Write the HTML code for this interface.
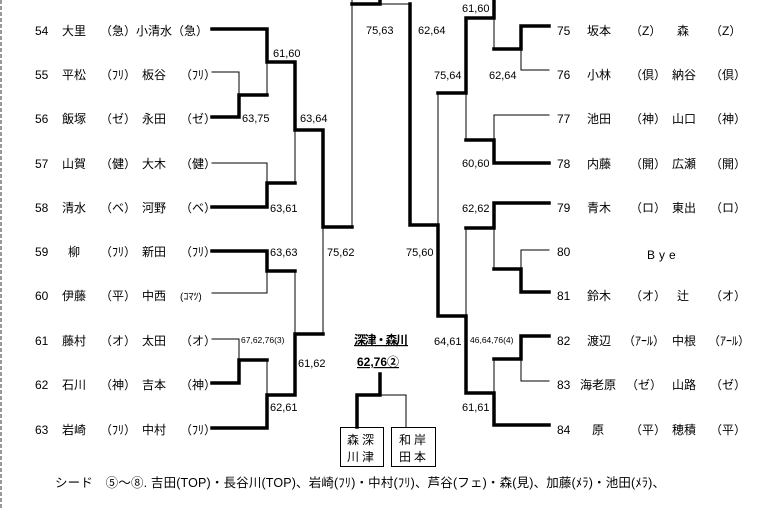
<!DOCTYPE html>
<html><head><meta charset="utf-8"><style>
html,body{margin:0;padding:0;background:#fff;}
svg{display:block;}
text{font-family:"Liberation Sans","Noto Sans CJK JP",sans-serif;fill:#000;}
.n{font-size:12px;}
.s{font-size:11px;}
</style></head><body>
<svg width="768" height="509" viewBox="0 0 768 509" xmlns="http://www.w3.org/2000/svg">
<line x1="1" y1="0" x2="1" y2="509" stroke="#999" stroke-width="2" stroke-dasharray="4,2"/>
<g stroke="#000" fill="none" stroke-linecap="square">
<!-- LEFT thick -->
<g stroke-width="3.5">
<polyline points="212,29 267,29 267,62 295,62 295,130 323,130 323,227 352,227"/>
<polyline points="212,117 239,117 239,95 267,95"/>
<polyline points="212,207 267,207 267,183 295,183"/>
<polyline points="212,251 267,251 267,271 295,271"/>
<polyline points="212,383 239,383 239,360 267,360"/>
<polyline points="212,428 267,428 267,395 295,395 295,334 323,334"/>
<polyline points="352,4 380,4 380,0"/>
<!-- center -->
<polyline points="380,374 380,395 357,395 357,427"/>
<!-- RIGHT thick -->
<polyline points="549,26 521,26 521,49 494,49"/>
<polyline points="494,0 494,18 466,18 466,93 438,93"/>
<polyline points="549,163 494,163 494,140 466,140"/>
<polyline points="410,4 410,225 438,225 438,316 466,316 466,393 494,393 494,425 549,425"/>
<polyline points="549,203 494,203 494,228 466,228"/>
<polyline points="549,292 521,292 521,269 494,269"/>
<polyline points="549,336 521,336 521,359 494,359"/>
</g>
<g stroke-width="1">
<polyline points="212,72 239,72 239,95"/>
<line x1="267" y1="62" x2="267" y2="95"/>
<line x1="295" y1="130" x2="295" y2="183"/>
<polyline points="212,163 267,163 267,183"/>
<polyline points="212,293 267,293 267,271"/>
<line x1="295" y1="271" x2="295" y2="334"/>
<line x1="323" y1="227" x2="323" y2="334"/>
<polyline points="212,339 239,339 239,360"/>
<line x1="267" y1="360" x2="267" y2="395"/>
<line x1="352" y1="0" x2="352" y2="227"/>
<line x1="380" y1="4" x2="410" y2="4"/>
<polyline points="380,395 406,395 406,427"/>
<rect x="340.5" y="427.5" width="43" height="39"/>
<rect x="391.5" y="427.5" width="44" height="39"/>
<polyline points="549,70 521,70 521,49"/>
<line x1="494" y1="18" x2="494" y2="49"/>
<line x1="466" y1="93" x2="466" y2="140"/>
<polyline points="549,115 494,115 494,140"/>
<line x1="438" y1="93" x2="438" y2="225"/>
<line x1="466" y1="228" x2="466" y2="316"/>
<line x1="494" y1="228" x2="494" y2="269"/>
<polyline points="549,250 521,250 521,269"/>
<polyline points="549,381 521,381 521,359"/>
<line x1="494" y1="359" x2="494" y2="393"/>
</g>
</g>
<!-- left names -->
<g class="n">
<text x="35" y="35">54</text><text x="62" y="35">大里</text><text x="100" y="35">（急）</text><text x="136" y="35">小清水（急）</text>
<text x="35" y="79">55</text><text x="62" y="79">平松</text><text x="100" y="79">（ﾌﾘ）</text><text x="142" y="79">板谷</text><text x="180" y="79">（ﾌﾘ）</text>
<text x="35" y="123">56</text><text x="62" y="123">飯塚</text><text x="100" y="123">（ゼ）</text><text x="142" y="123">永田</text><text x="180" y="123">（ゼ）</text>
<text x="35" y="168">57</text><text x="62" y="168">山賀</text><text x="100" y="168">（健）</text><text x="142" y="168">大木</text><text x="180" y="168">（健）</text>
<text x="35" y="212">58</text><text x="62" y="212">清水</text><text x="100" y="212">（ベ）</text><text x="142" y="212">河野</text><text x="180" y="212">（ベ）</text>
<text x="35" y="256">59</text><text x="68" y="256">柳</text><text x="100" y="256">（ﾌﾘ）</text><text x="142" y="256">新田</text><text x="180" y="256">（ﾌﾘ）</text>
<text x="35" y="300">60</text><text x="62" y="300">伊藤</text><text x="100" y="300">（平）</text><text x="142" y="300">中西</text><text x="180" y="300" font-size="10">(ｺﾏﾂ)</text>
<text x="35" y="345">61</text><text x="62" y="345">藤村</text><text x="100" y="345">（オ）</text><text x="142" y="345">太田</text><text x="180" y="345">（オ）</text>
<text x="35" y="389">62</text><text x="62" y="389">石川</text><text x="100" y="389">（神）</text><text x="142" y="389">吉本</text><text x="180" y="389">（神）</text>
<text x="35" y="434">63</text><text x="62" y="434">岩崎</text><text x="100" y="434">（ﾌﾘ）</text><text x="142" y="434">中村</text><text x="180" y="434">（ﾌﾘ）</text>
</g>
<!-- right names -->
<g class="n">
<text x="557" y="35">75</text><text x="587" y="35">坂本</text><text x="630" y="35">（Z）</text><text x="677" y="35">森</text><text x="710" y="35">（Z）</text>
<text x="557" y="79">76</text><text x="587" y="79">小林</text><text x="630" y="79">（倶）</text><text x="672" y="79">納谷</text><text x="710" y="79">（倶）</text>
<text x="557" y="123">77</text><text x="587" y="123">池田</text><text x="630" y="123">（神）</text><text x="672" y="123">山口</text><text x="710" y="123">（神）</text>
<text x="557" y="168">78</text><text x="587" y="168">内藤</text><text x="630" y="168">（開）</text><text x="672" y="168">広瀬</text><text x="710" y="168">（開）</text>
<text x="557" y="212">79</text><text x="587" y="212">青木</text><text x="630" y="212">（ロ）</text><text x="672" y="212">東出</text><text x="710" y="212">（ロ）</text>
<text x="557" y="256">80</text><text x="647" y="259" letter-spacing="4">Bye</text>
<text x="557" y="300">81</text><text x="587" y="300">鈴木</text><text x="630" y="300">（オ）</text><text x="677" y="300">辻</text><text x="710" y="300">（オ）</text>
<text x="557" y="345">82</text><text x="587" y="345">渡辺</text><text x="623" y="345">（ｱｰﾙ）</text><text x="672" y="345">中根</text><text x="708" y="345">（ｱｰﾙ）</text>
<text x="557" y="389">83</text><text x="580" y="389">海老原</text><text x="626" y="389">（ゼ）</text><text x="672" y="389">山路</text><text x="710" y="389">（ゼ）</text>
<text x="557" y="434">84</text><text x="592" y="434">原</text><text x="630" y="434">（平）</text><text x="672" y="434">穂積</text><text x="710" y="434">（平）</text>
</g>
<!-- scores -->
<g class="s">
<text x="273" y="57">61,60</text>
<text x="242" y="122">63,75</text>
<text x="300" y="122">63,64</text>
<text x="270" y="212">63,61</text>
<text x="270" y="256">63,63</text>
<text x="327" y="256">75,62</text>
<text x="366" y="34">75,63</text>
<text x="298" y="367">61,62</text>
<text x="270" y="411">62,61</text>
<text x="241" y="343" font-size="8.5">67,62,76(3)</text>
<text x="418" y="34">62,64</text>
<text x="462" y="12">61,60</text>
<text x="434" y="79">75,64</text>
<text x="489" y="79">62,64</text>
<text x="462" y="167">60,60</text>
<text x="462" y="212">62,62</text>
<text x="406" y="256">75,60</text>
<text x="434" y="345">64,61</text>
<text x="470" y="343" font-size="8.5">46,64,76(4)</text>
<text x="462" y="411">61,61</text>
</g>
<g font-weight="bold" font-size="12">
<text x="354" y="344" text-decoration="underline" textLength="54">深津・森川</text>
<text x="357" y="366" text-decoration="underline">62,76②</text>
</g>
<g class="n">
<text x="347" y="444" letter-spacing="3">森深</text><text x="347" y="461" letter-spacing="3">川津</text>
<text x="399" y="444" letter-spacing="3">和岸</text><text x="399" y="461" letter-spacing="3">田本</text>
<text x="55" y="487" font-size="12.5" textLength="610">シード　⑤～⑧. 吉田(TOP)・長谷川(TOP)、岩崎(ﾌﾘ)・中村(ﾌﾘ)、芦谷(フェ)・森(見)、加藤(ﾒﾗ)・池田(ﾒﾗ)、</text>
</g>
</svg>
</body></html>
